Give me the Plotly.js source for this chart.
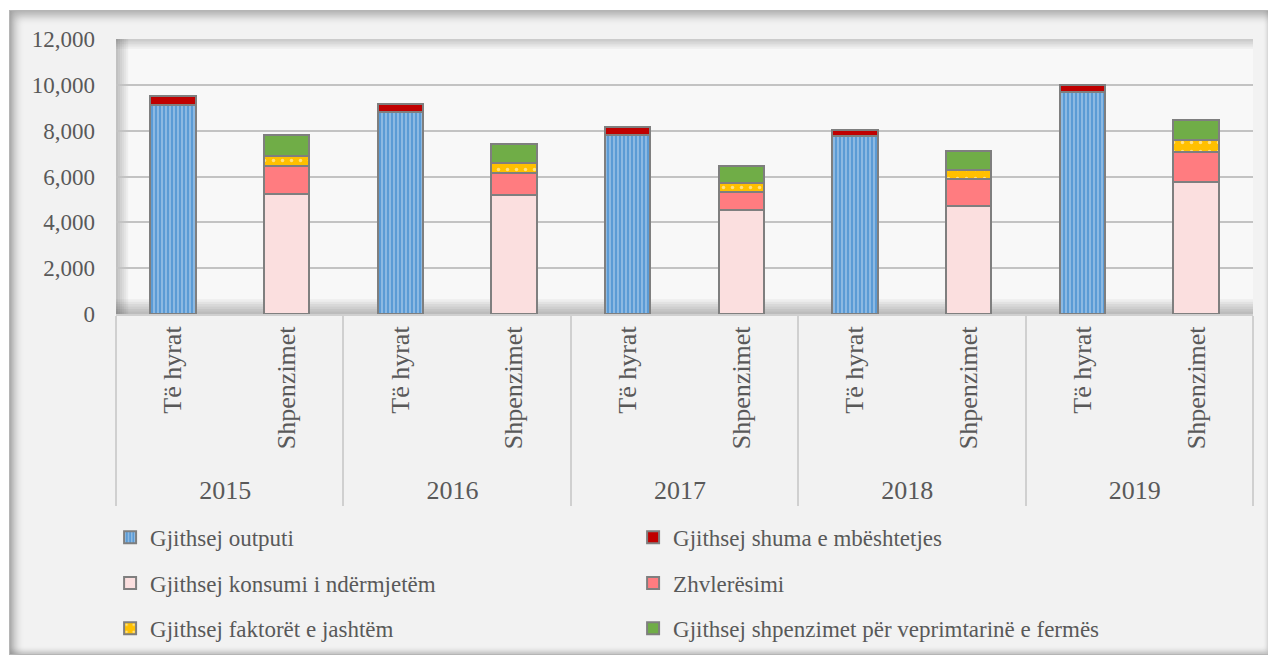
<!DOCTYPE html>
<html>
<head>
<meta charset="utf-8">
<script src="https://cdn.plot.ly/plotly-3.0.1.min.js"></script>
<style>
  html, body { margin: 0; padding: 0; background: #ffffff; }
  #frame {
    position: absolute; left: 9px; top: 10px; width: 1259px; height: 645px;
    background: #f2f2f2;
    border-top: 1px solid #b5b5b5; border-left: 1px solid #b5b5b5; border-bottom: 1px solid #b5b5b5;
    box-shadow: inset 5px 5px 8px rgba(0,0,0,0.28), inset 0 -3px 5px rgba(0,0,0,0.18);
    box-sizing: border-box;
  }
  #chart { position: absolute; left: 0; top: 0; width: 1259px; height: 645px; }
</style>
</head>
<body>
<div id="frame"><div id="chart"></div></div>
<script>
// ---- data ----
const years = ["2015", "2016", "2017", "2018", "2019"];
const sides = ["Të hyrat", "Shpenzimet"];

const seriesNames = [
  "Gjithsej outputi",
  "Gjithsej shuma e mbështetjes",
  "Gjithsej konsumi i ndërmjetëm",
  "Zhvlerësimi",
  "Gjithsej faktorët e jashtëm",
  "Gjithsej shpenzimet për veprimtarinë e fermës"
];

// Të hyrat (income)
const outputi    = [9130, 8800, 7790, 7760, 9670];
const mbeshtetja = [380, 380, 360, 290, 340];
// Shpenzimet (expenses)
const konsumi     = [5250, 5210, 4550, 4730, 5760];
const zhvleresimi = [1210, 930, 780, 1150, 1290];
const faktoret    = [430, 440, 370, 390, 550];
const ferma       = [900, 850, 750, 860, 880];

// ---- build multicategory x ----
const xYears = [], xSides = [];
years.forEach(y => sides.forEach(s => { xYears.push(y); xSides.push(s); }));
function onSide(vals, sideIdx) {
  const out = [];
  years.forEach((y, i) => sides.forEach((s, j) => out.push(j === sideIdx ? vals[i] : null)));
  return out;
}

const lineStyle = {color: "#7f7f7f", width: 2};
const fontFam = "Liberation Serif";
const txtCol = "#595959";
const fs = 23;

const traces = [
  {y: onSide(outputi, 0), name: seriesNames[0], legend: "legend",
   marker: {color: "#5b9bd5", line: lineStyle,
            pattern: {shape: "|", fillmode: "overlay", fgcolor: "#ffffff", bgcolor: "#5b9bd5", size: 4, solidity: 0.3}}},
  {y: onSide(mbeshtetja, 0), name: seriesNames[1], legend: "legend",
   marker: {color: "#c00000", line: lineStyle}},
  {y: onSide(konsumi, 1), name: seriesNames[2], legend: "legend2",
   marker: {color: "#fbdfdf", line: lineStyle}},
  {y: onSide(zhvleresimi, 1), name: seriesNames[3], legend: "legend2",
   marker: {color: "#ff7c80", line: lineStyle}},
  {y: onSide(faktoret, 1), name: seriesNames[4], legend: "legend3",
   marker: {color: "#ffc000", line: lineStyle,
            pattern: {shape: ".", fillmode: "overlay", fgcolor: "#ffffff", bgcolor: "#ffc000", size: 9, solidity: 0.12}}},
  {y: onSide(ferma, 1), name: seriesNames[5], legend: "legend3",
   marker: {color: "#70ad47", line: lineStyle}}
].map(t => Object.assign({type: "bar", x: [xYears, xSides], hoverinfo: "y+name"}, t));

function legendRow(yv) {
  return {
    orientation: "h", xref: "container", yref: "container",
    x: 0.0795, y: yv, xanchor: "left", yanchor: "middle",
    bgcolor: "rgba(0,0,0,0)",
    font: {family: fontFam, size: fs, color: txtCol},
    entrywidth: 478, entrywidthmode: "pixels",
    itemwidth: 30, traceorder: "normal"
  };
}

// soft inner shadow of plot area (style only)
const shapes = [];
for (let i = 1; i <= 6; i++) {
  shapes.push({type: "rect", xref: "paper", yref: "paper", layer: "below",
    x0: 0, x1: 1, y0: 0, y1: i * 0.009, line: {width: 0}, fillcolor: "rgba(0,0,0,0.045)"});
  shapes.push({type: "rect", xref: "paper", yref: "paper", layer: "below",
    x0: 0, x1: i * 0.0018, y0: 0, y1: 1, line: {width: 0}, fillcolor: "rgba(0,0,0,0.04)"});
  shapes.push({type: "rect", xref: "paper", yref: "paper", layer: "below",
    x0: 0, x1: 1, y0: 1 - i * 0.006, y1: 1, line: {width: 0}, fillcolor: "rgba(0,0,0,0.03)"});
}

const layout = {
  width: 1259, height: 645,
  margin: {l: 106, r: 16, t: 28, b: 342},
  paper_bgcolor: "rgba(0,0,0,0)",
  plot_bgcolor: "#f8f8f8",
  barmode: "stack",
  bargap: 0.6,
  font: {family: fontFam, size: fs, color: txtCol},
  shapes: shapes,
  xaxis: {
    type: "multicategory",
    tickangle: -90,
    tickfont: {family: fontFam, size: 26, color: txtCol},
    showline: true, linecolor: "#d0d0d0", linewidth: 2,
    showdividers: true, dividercolor: "#d0d0d0", dividerwidth: 2,
    ticks: "", showgrid: false
  },
  yaxis: {
    range: [0, 12000], dtick: 2000, tickformat: ",d",
    showgrid: true, gridcolor: "#c3c3c3", gridwidth: 2,
    zeroline: false, showline: false, ticks: "",
    ticklabelstandoff: 20,
    tickfont: {family: fontFam, size: fs, color: txtCol}
  },
  legend: legendRow(0.184),
  legend2: legendRow(0.113),
  legend3: legendRow(0.043),
  showlegend: true
};

Plotly.newPlot("chart", traces, layout, {displayModeBar: false, staticPlot: true});
</script>
</body>
</html>
